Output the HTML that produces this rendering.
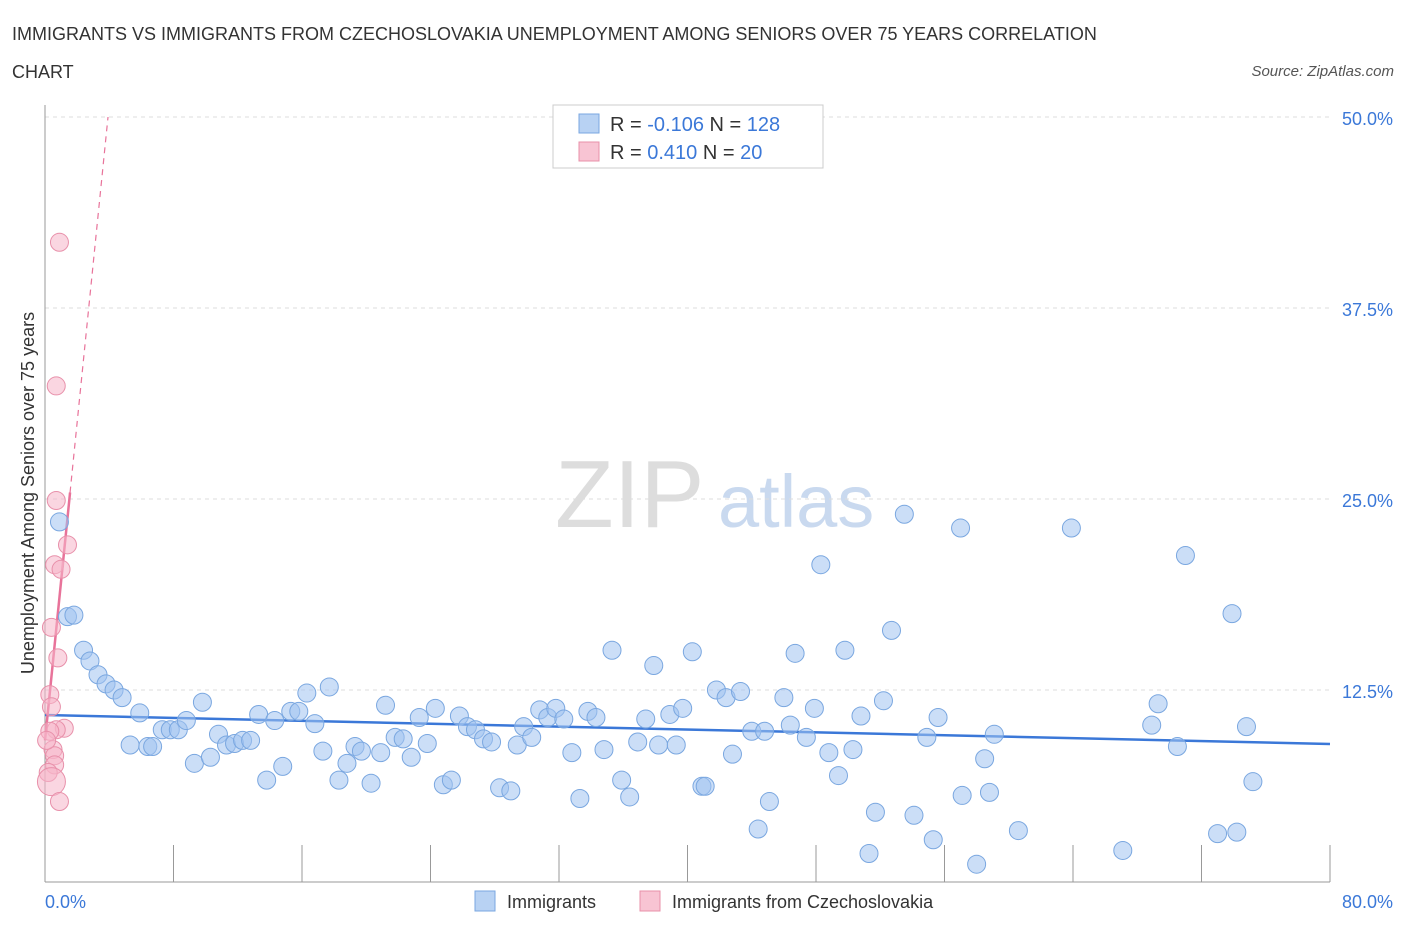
<!DOCTYPE html>
<html><head><meta charset="utf-8">
<style>
body{margin:0;background:#fff;font-family:"Liberation Sans",sans-serif;}
svg text{font-family:"Liberation Sans",sans-serif;}
</style></head>
<body>
<svg id="chart" width="1406" height="930" xmlns="http://www.w3.org/2000/svg">
<text x="12" y="40" font-size="18" fill="#333">IMMIGRANTS VS IMMIGRANTS FROM CZECHOSLOVAKIA UNEMPLOYMENT AMONG SENIORS OVER 75 YEARS CORRELATION</text>
<text x="12" y="78" font-size="18" fill="#333">CHART</text>
<text x="1394" y="76" font-size="15" fill="#555" font-style="italic" text-anchor="end">Source: ZipAtlas.com</text>
<text x="555" y="527" font-size="96" fill="#ddd" font-family="Liberation Serif">ZIP</text>
<text x="718" y="527" font-size="74" fill="#c9d9ef">atlas</text>
<g id="grid"></g>
<g id="axes"></g>
<g id="trend"></g>
<g id="points"></g>
<text transform="translate(34,493) rotate(-90)" font-size="18" fill="#333" text-anchor="middle">Unemployment Among Seniors over 75 years</text>
<g>
<rect x="553" y="105" width="270" height="63" fill="#fff" stroke="#ccc"/>
<rect x="579" y="114" width="20" height="19" fill="#b8d2f3" stroke="#7aa7e0"/>
<rect x="579" y="142" width="20" height="19" fill="#f8c4d3" stroke="#e890aa"/>
<text x="610" y="131" font-size="20" fill="#333">R = <tspan fill="#3b78d8">-0.106</tspan>   N = <tspan fill="#3b78d8">128</tspan></text>
<text x="610" y="159" font-size="20" fill="#333">R =  <tspan fill="#3b78d8"> 0.410</tspan>   N =  <tspan fill="#3b78d8"> 20</tspan></text>
</g>
<g>
<rect x="475" y="891" width="20" height="20" fill="#b8d2f3" stroke="#7aa7e0"/>
<text x="507" y="908" font-size="18" fill="#333">Immigrants</text>
<rect x="640" y="891" width="20" height="20" fill="#f8c4d3" stroke="#e890aa"/>
<text x="672" y="908" font-size="18" fill="#333">Immigrants from Czechoslovakia</text>
</g>
</svg>
<script>
const yTicks=[12.5,25,37.5,50];
const yTickLabels=["12.5%","25.0%","37.5%","50.0%"];
const xTickCount=10;
const xMin=0,xMax=80,yMin=0,yMax=50;
const blueX=[0.9,1.4,1.8,2.4,2.8,3.3,3.8,4.3,4.8,5.9,5.3,6.4,6.7,7.3,7.8,8.3,8.8,9.3,9.8,10.3,10.8,11.3,11.8,12.3,12.8,13.3,13.8,14.3,14.8,15.3,15.8,16.3,16.8,17.3,17.7,18.3,18.8,19.3,19.7,20.3,20.9,21.2,21.8,22.3,22.8,23.3,23.8,24.3,24.8,25.3,25.8,26.3,26.8,27.3,27.8,28.3,29.0,29.4,29.8,30.3,30.8,31.3,31.8,32.3,32.8,33.3,33.8,34.3,34.8,35.3,35.9,36.4,36.9,37.4,37.9,38.2,38.9,39.3,39.7,40.3,40.9,41.1,41.8,42.4,42.8,43.3,44.0,44.4,44.8,45.1,46.0,46.4,46.7,47.4,47.9,48.3,48.8,49.4,49.8,50.3,50.8,51.3,51.7,52.2,52.7,53.5,54.1,54.9,55.3,55.6,57.0,57.1,58.0,58.5,58.8,59.1,60.6,63.9,67.1,68.9,69.3,70.5,71.0,73.0,73.9,74.2,74.8,75.2];
const blueY=[23.5,17.3,17.4,15.1,14.4,13.5,12.9,12.5,12.0,11.0,8.9,8.8,8.8,9.9,9.9,9.9,10.5,7.7,11.7,8.1,9.6,8.9,9.0,9.2,9.2,10.9,6.6,10.5,7.5,11.1,11.1,12.3,10.3,8.5,12.7,6.6,7.7,8.8,8.5,6.4,8.4,11.5,9.4,9.3,8.1,10.7,9.0,11.3,6.3,6.6,10.8,10.1,9.9,9.3,9.1,6.1,5.9,8.9,10.1,9.4,11.2,10.7,11.3,10.6,8.4,5.4,11.1,10.7,8.6,15.1,6.6,5.5,9.1,10.6,14.1,8.9,10.9,8.9,11.3,15.0,6.2,6.2,12.5,12.0,8.3,12.4,9.8,3.4,9.8,5.2,12.0,10.2,14.9,9.4,11.3,20.7,8.4,6.9,15.1,8.6,10.8,1.8,4.5,11.8,16.4,24.0,4.3,9.4,2.7,10.7,23.1,5.6,1.1,8.0,5.8,9.6,3.3,23.1,2.0,10.2,11.6,8.8,21.3,3.1,17.5,3.2,10.1,6.5];
const pinkX=[0.9,0.7,0.7,1.4,0.6,1.0,0.4,0.8,0.3,0.4,1.2,0.7,0.3,0.5,0.6,0.6,0.2,0.4,0.9,0.1];
const pinkY=[41.8,32.4,24.9,22.0,20.7,20.4,16.6,14.6,12.2,11.4,10.0,9.9,9.8,8.6,8.2,7.6,7.1,6.5,5.2,9.2];
const pinkR=[9,9,9,9,9,9,9,9,9,9,9,9,9,9,9,9,9,14,9,9];
const blueTrend=[10.86,8.97];
const pinkTrend=[9.2,10.4];
const NS="http://www.w3.org/2000/svg";
const L=45,R=1330,T=117,B=881;
const sx=v=>L+(v-xMin)/(xMax-xMin)*(R-L);
const sy=v=>B-(v-yMin)/(yMax-yMin)*(B-T);
function mk(tag,attrs,parent){const e=document.createElementNS(NS,tag);for(const k in attrs)e.setAttribute(k,attrs[k]);parent.appendChild(e);return e;}
const grid=document.getElementById('grid'),axes=document.getElementById('axes');
yTicks.forEach((t,i)=>{
 const g=mk('line',{x1:L,x2:R,y1:sy(t),y2:sy(t),stroke:'#ddd','stroke-dasharray':'4,4'},grid);
 
 
 const tx=mk('text',{x:1393,y:sy(t)+8,'font-size':18,fill:'#3b78d8','text-anchor':'end'},axes);
 
 
 tx.textContent=yTickLabels[i];
});
const ax=mk('line',{x1:L,x2:R,y1:B+1,y2:B+1,stroke:'#999'},axes);


const ay=mk('line',{x1:L,x2:L,y1:105,y2:B+1,stroke:'#999'},axes);


for(let i=0;i<=xTickCount;i++){
 const x=sx(xMin+(xMax-xMin)*i/xTickCount);
 const tk=mk('line',{x1:x,x2:x,y1:845,y2:B+1,stroke:'#999'},axes);
 
 
}
const x0=mk('text',{x:45,y:908,'font-size':18,fill:'#3b78d8'},axes);


x0.textContent='0.0%';
const x1=mk('text',{x:1393,y:908,'font-size':18,fill:'#3b78d8','text-anchor':'end'},axes);


x1.textContent='80.0%';
const pts=document.getElementById('points');
blueX.forEach((v,i)=>{
 const c=mk('circle',{cx:sx(v),cy:sy(blueY[i]),r:9,fill:'rgba(160,195,240,0.55)',stroke:'#7aa7e0','stroke-width':1},pts);
 
 
});
pinkX.forEach((v,i)=>{
 const c=mk('circle',{cx:sx(v),cy:sy(pinkY[i]),r:pinkR[i],fill:'rgba(245,180,200,0.55)',stroke:'#e890aa','stroke-width':1},pts);
 
 
});
const tr=document.getElementById('trend');
const bl=mk('line',{x1:sx(xMin),y1:sy(blueTrend[0]),x2:sx(xMax),y2:sy(blueTrend[1]),stroke:'#3b78d8','stroke-width':2.5},tr);


const pEnd=1.56, pTop=(yMax-pinkTrend[0])/pinkTrend[1];
const ps=mk('line',{x1:sx(0),y1:sy(pinkTrend[0]),x2:sx(pEnd),y2:sy(pinkTrend[0]+pinkTrend[1]*pEnd),stroke:'#e8739a','stroke-width':2.5},tr);


const pd=mk('line',{x1:sx(pEnd),y1:sy(pinkTrend[0]+pinkTrend[1]*pEnd),x2:sx(pTop),y2:sy(yMax),stroke:'#e8739a','stroke-width':1.2,'stroke-dasharray':'6,5'},tr);


</script>
</body></html>
